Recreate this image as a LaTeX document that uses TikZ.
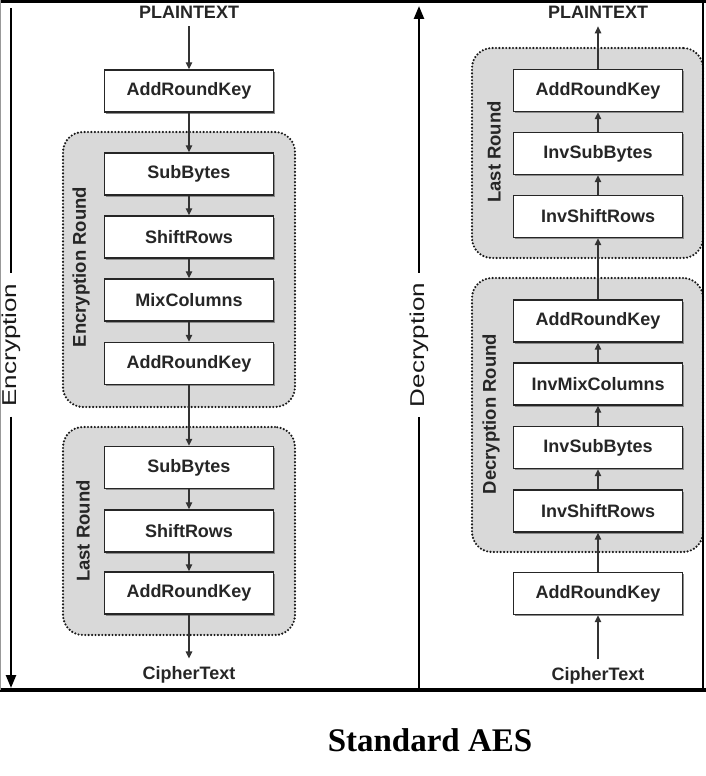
\documentclass[tikz,border=0pt]{standalone}
\usepackage{fontspec}
\setmainfont{Liberation Sans}
\newfontfamily\titlefont{Liberation Serif}
\usepackage{tikz}
\usetikzlibrary{shapes,arrows.meta,positioning,shadows}
\tikzstyle{stage} = [rectangle, draw=black!85, line width=1.4pt, fill=white, minimum width=169pt, minimum height=42pt, inner sep=0pt, font=\fontsize{18}{20}\selectfont\bfseries, text=black!85, drop shadow={shadow xshift=1.6pt, shadow yshift=-1.6pt, fill=black!45, opacity=1}]
\tikzstyle{roundbox} = [rectangle, rounded corners=20pt, fill=black!15, draw=black!90, line width=2.4pt, dash pattern=on 0pt off 3.4pt, line cap=round, inner sep=0pt]
\tikzstyle{rlabel} = [rotate=90, font=\fontsize{18.5}{20}\selectfont\bfseries, text=black!85]
\tikzstyle{io} = [font=\fontsize{18}{20}\selectfont\bfseries, text=black!85, inner sep=8pt]
\tikzstyle{line} = [draw, black!80, line width=1.3pt, -{Triangle[length=7pt,width=6.5pt]}]
\tikzstyle{bigline} = [draw, line width=2.4pt]
\tikzstyle{bigarrow} = [draw, line width=2.4pt, -{Triangle[length=13pt,width=10pt]}]
\tikzstyle{dirlabel} = [rotate=90, font=\fontsize{20}{22}\selectfont, text=black!90, inner xsep=10pt, inner ysep=2pt]

\begin{document}
\begin{tikzpicture}[x=1pt, y=-1pt]
				\useasboundingbox (0,0) rectangle (706,776);

				\node [roundbox, minimum width=232pt, minimum height=275pt] (encround) at (179,269.5) {};
				\node [roundbox, minimum width=232pt, minimum height=208pt] (enclast) at (179,531) {};
				\node [roundbox, minimum width=231pt, minimum height=210pt] (declast) at (587.5,153) {};
				\node [roundbox, minimum width=231pt, minimum height=274pt] (decround) at (587.5,415) {};

				\node [rlabel] (encroundlbl) at (81,267) {Encryption Round};
				\node [rlabel] (enclastlbl) at (83,531) {Last Round};
				\node [rlabel] (declastlbl) at (494,152) {Last Round};
				\node [rlabel] (decroundlbl) at (491,414) {Decryption Round};

				\node [io] (eplain) at (189,12) {PLAINTEXT};
				\node [stage] (eark0) at (189,91) {AddRoundKey};
				\node [stage] (esb1) at (189,174) {SubBytes};
				\node [stage] (esr1) at (189,237) {ShiftRows};
				\node [stage] (emc1) at (189,300) {MixColumns};
				\node [stage] (eark1) at (189,363.5) {AddRoundKey};
				\node [stage] (esb2) at (189,467.5) {SubBytes};
				\node [stage] (esr2) at (189,531) {ShiftRows};
				\node [stage] (eark2) at (189,593) {AddRoundKey};
				\node [io] (ecipher) at (189,675) {CipherText};

				\node [io] (dcipher) at (598,676) {CipherText};
				\node [stage] (dark0) at (598,593.5) {AddRoundKey};
				\node [stage] (disr1) at (598,511) {InvShiftRows};
				\node [stage] (disb1) at (598,447.5) {InvSubBytes};
				\node [stage] (dimc1) at (598,384) {InvMixColumns};
				\node [stage] (dark1) at (598,321) {AddRoundKey};
				\node [stage] (disr2) at (598,216.5) {InvShiftRows};
				\node [stage] (disb2) at (598,153.5) {InvSubBytes};
				\node [stage] (dark2) at (598,90.5) {AddRoundKey};
				\node [io] (dplain) at (598,12) {PLAINTEXT};

				\path [line] (eplain) -- (eark0);
				\path [line] (eark0) -- (esb1);
				\path [line] (esb1) -- (esr1);
				\path [line] (esr1) -- (emc1);
				\path [line] (emc1) -- (eark1);
				\path [line] (eark1) -- (esb2);
				\path [line] (esb2) -- (esr2);
				\path [line] (esr2) -- (eark2);
				\path [line] (eark2) -- (ecipher);

				\path [line] (dcipher) -- (dark0);
				\path [line] (dark0) -- (disr1);
				\path [line] (disr1) -- (disb1);
				\path [line] (disb1) -- (dimc1);
				\path [line] (dimc1) -- (dark1);
				\path [line] (dark1) -- (disr2);
				\path [line] (disr2) -- (disb2);
				\path [line] (disb2) -- (dark2);
				\path [line] (dark2) -- (dplain);

				\coordinate (enctop) at (11,8);
				\coordinate (encbot) at (11,688);
				\node [dirlabel] (enclbl) at (11,345) {\scalebox{1.3}[1]{Encryption}};
				\path [bigline] (enctop) -- (enclbl);
				\path [bigarrow] (enclbl) -- (encbot);

				\coordinate (decbot) at (419,690);
				\coordinate (dectop) at (419,6);
				\node [dirlabel] (declbl) at (419,345) {\scalebox{1.3}[1]{Decryption}};
				\path [bigline] (decbot) -- (declbl);
				\path [bigarrow] (declbl) -- (dectop);

				\draw [line width=3pt] (0,1.5) -- (706,1.5);
				\draw [line width=3.5pt] (0,690) -- (706,690);
				\draw [line width=2pt] (703,0) -- (703,690);
				\draw [black!40, line width=1pt] (0.5,0) -- (0.5,690);

				\node [font=\titlefont\fontsize{33}{36}\selectfont\bfseries] (title) at (430,740) {Standard AES};
			\end{tikzpicture}
\end{document}
